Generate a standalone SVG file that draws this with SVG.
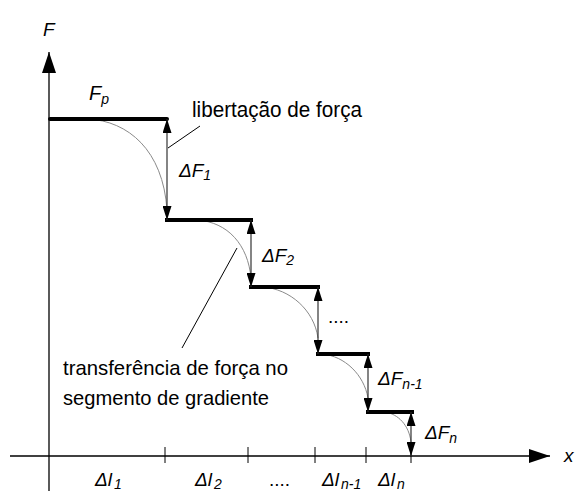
<svg xmlns="http://www.w3.org/2000/svg" width="575" height="491" viewBox="0 0 575 491">
<style>
.ax{stroke:#000;stroke-width:1.3;fill:none}
.step{stroke:#000;stroke-width:4;fill:none;stroke-linecap:square}
.dim{stroke:#333;stroke-width:1.2;fill:none}
.crv{stroke:#8a8a8a;stroke-width:1;fill:none}
.ld{stroke:#000;stroke-width:1;fill:none}
.tk{stroke:#000;stroke-width:1;fill:none}
text{font-family:"Liberation Sans",Arial,sans-serif;fill:#000}
.it{font-style:italic;font-size:19px}
.sub{font-style:italic;font-size:14px}
.lbl{font-size:21px}
</style>
<defs>
<marker id="ah" viewBox="0 0 14 9" refX="14" refY="4.5" markerUnits="userSpaceOnUse" markerWidth="14" markerHeight="9" orient="auto-start-reverse">
<path d="M0,0 L14,4.5 L0,9 z" fill="#000"/>
</marker>
<marker id="axh" viewBox="0 0 21 14" refX="21" refY="7" markerUnits="userSpaceOnUse" markerWidth="21" markerHeight="14" orient="auto">
<path d="M0,0 L21,7 L0,14 z" fill="#000"/>
</marker>
</defs>
<g id="axes">
<line class="ax" x1="49" y1="491" x2="49" y2="52" marker-end="url(#axh)"/>
<line class="ax" x1="10" y1="456" x2="550" y2="456" marker-end="url(#axh)"/>
<text class="it" x="43" y="36">F</text>
<text class="it" x="564" y="462">x</text>
</g>
<g id="ticks">
<line class="tk" x1="165" y1="447" x2="165" y2="463"/>
<line class="tk" x1="248" y1="447" x2="248" y2="463"/>
<line class="tk" x1="315" y1="447" x2="315" y2="463"/>
<line class="tk" x1="366" y1="447" x2="366" y2="463"/>
<line class="tk" x1="411" y1="447" x2="411" y2="463"/>
</g>
<g id="curves">
<path class="crv" d="M88,119 C128,121 163,150 167,210"/>
<path class="crv" d="M197,220 C228,222 248,245 251,278"/>
<path class="crv" d="M263,287 C290,289 314,310 318,338"/>
<path class="crv" d="M322,354 C345,356 364,375 368,398"/>
<path class="crv" d="M385,412 C398,414 409,425 411,442"/>
</g>
<g id="steps">
<line class="step" x1="50" y1="119" x2="167" y2="119" style="stroke-linecap:round"/>
<line class="step" x1="167" y1="220" x2="251" y2="220"/>
<line class="step" x1="251" y1="287" x2="318" y2="287"/>
<line class="step" x1="318" y1="354" x2="368" y2="354"/>
<line class="step" x1="368" y1="412" x2="412" y2="412"/>
</g>
<g id="connectors">
<line class="dim" x1="167" y1="119" x2="167" y2="220" marker-start="url(#ah)" marker-end="url(#ah)"/>
<line class="dim" x1="251" y1="220" x2="251" y2="287" marker-start="url(#ah)" marker-end="url(#ah)"/>
<line class="dim" x1="318" y1="287" x2="318" y2="354" marker-start="url(#ah)" marker-end="url(#ah)"/>
<line class="dim" x1="368" y1="354" x2="368" y2="412" marker-start="url(#ah)" marker-end="url(#ah)"/>
<line class="dim" x1="411" y1="412" x2="411" y2="456" marker-start="url(#ah)" marker-end="url(#ah)"/>
<line class="ld" x1="168" y1="148" x2="200" y2="126"/>
<line class="ld" x1="237" y1="248" x2="182" y2="348"/>
</g>
<g id="label-Fp">
<text class="it" x="89" y="100" style="font-size:20px">F<tspan class="sub" dy="4">p</tspan></text>
</g>
<g id="label-liberacao">
<text class="lbl" x="192" y="117" textLength="170" lengthAdjust="spacingAndGlyphs" style="font-size:22px">libertação de força</text>
</g>
<g id="label-transferencia">
<text class="lbl" x="63" y="375" textLength="225" lengthAdjust="spacingAndGlyphs">transferência de força no</text>
<text class="lbl" x="63" y="405" textLength="206" lengthAdjust="spacingAndGlyphs">segmento de gradiente</text>
</g>
<text id="label-dF1" class="it" x="179" y="177">ΔF<tspan class="sub" dy="3">1</tspan></text>
<text id="label-dF2" class="it" x="262" y="262">ΔF<tspan class="sub" dy="3">2</tspan></text>
<text id="label-dots1" x="328" y="323" style="font-size:19px">....</text>
<text id="label-dFn1" class="it" x="378" y="385">ΔF<tspan class="sub" dy="4">n-1</tspan></text>
<text id="label-dFn" class="it" x="425" y="439">ΔF<tspan class="sub" dy="4">n</tspan></text>
<text id="label-dl1" class="it" x="95" y="486">Δl<tspan class="sub" dx="2" dy="3">1</tspan></text>
<text id="label-dl2" class="it" x="195" y="486">Δl<tspan class="sub" dx="2" dy="3">2</tspan></text>
<text id="label-dots2" x="269" y="486" style="font-size:19px">....</text>
<text id="label-dln1" class="it" x="322" y="486">Δl<tspan class="sub" dx="2" dy="3">n-1</tspan></text>
<text id="label-dln" class="it" x="378" y="486">Δl<tspan class="sub" dx="2" dy="3">n</tspan></text>
</svg>
